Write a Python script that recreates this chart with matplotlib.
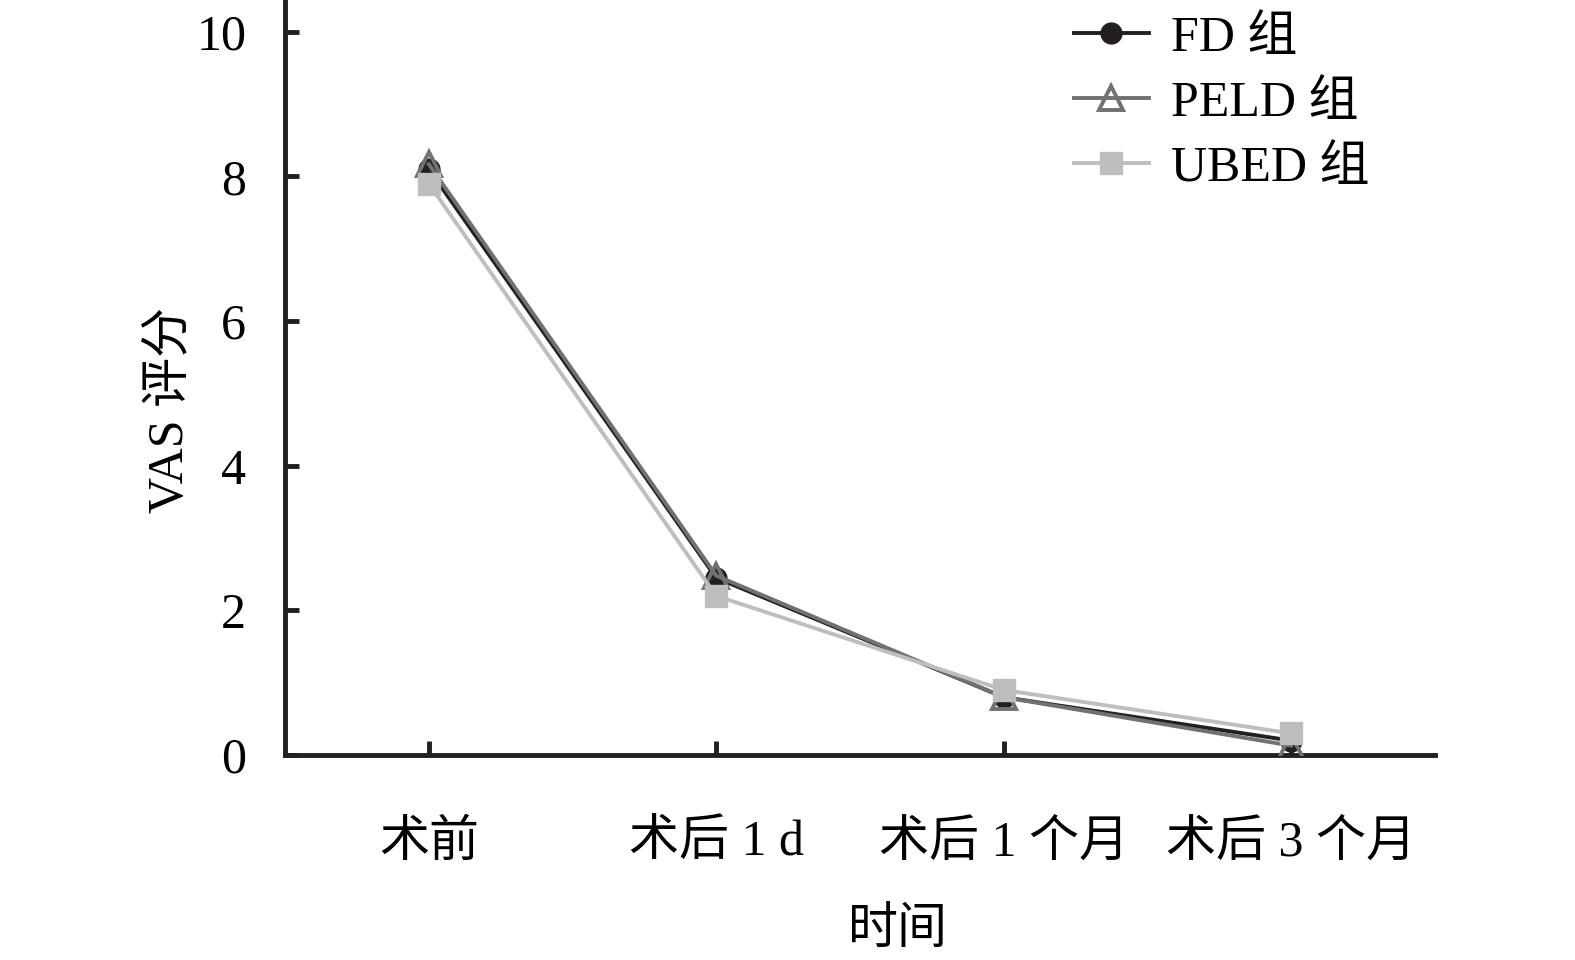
import matplotlib
matplotlib.use("Agg")
import matplotlib.pyplot as plt

# ------------------------
# data
# ------------------------
categories = ["术前", "术后 1 d", "术后 1 个月", "术后 3 个月"]
fd_vals = [8.1, 2.45, 0.8, 0.2]
peld_vals = [8.17, 2.48, 0.8, 0.13]
ubed_vals = [7.9, 2.2, 0.9, 0.3]
y_ticks = [0, 2, 4, 6, 8, 10]

plt.rcParams["font.family"] = ["Liberation Serif", "Noto Sans CJK SC"]
plt.rcParams["font.size"] = 36

fig = plt.figure(figsize=(15.75, 9.6), dpi=100)
ax = fig.add_axes([0.181, 0.2135, 0.730, 0.7865])

x = list(range(len(categories)))
ax.plot(x, fd_vals, color="#231f20", lw=2.8, marker="o", ms=15,
        mfc="#231f20", mec="#231f20", label="FD 组", zorder=3)
ax.plot(x, peld_vals, color="#707173", lw=2.8, marker="^", ms=17,
        mfc="none", mec="#707173", mew=2.8, label="PELD 组", zorder=4)
ax.plot(x, ubed_vals, color="#bcbec0", lw=2.8, marker="s", ms=16,
        mfc="#bcbec0", mec="#bcbec0", label="UBED 组", zorder=5)

ax.set_xlim(-0.5, 3.5)
ax.set_ylim(0, 10.44)
ax.set_xticks(x)
ax.set_xticklabels(categories)
ax.set_yticks(y_ticks)

for side in ["top", "right"]:
    ax.spines[side].set_visible(False)
for side in ["left", "bottom"]:
    ax.spines[side].set_linewidth(3.5)
    ax.spines[side].set_color("#231f20")

ax.tick_params(axis="x", direction="in", length=10, width=3.5, pad=47, color="#231f20")
ax.tick_params(axis="y", direction="in", length=10, width=3.5, pad=28, color="#231f20")

ax.set_xlabel("时间")
ax.xaxis.set_label_coords(0.533, -0.233)
ax.xaxis.label.set_va("center")
ax.set_ylabel("VAS 评分")
ax.yaxis.set_label_coords(-0.1, 0.457)
ax.yaxis.label.set_va("center")

ax.legend(loc="upper left", bbox_to_anchor=(0.664, 1.013), frameon=False,
          handlelength=1.5, handletextpad=0.45, labelspacing=0.37, borderpad=0)

fig.savefig("out.png", dpi=100)
